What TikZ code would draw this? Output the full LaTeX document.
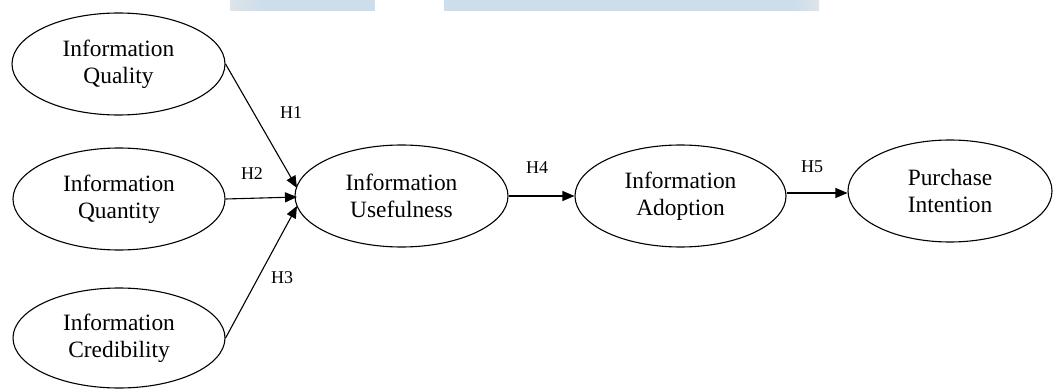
\documentclass[tikz,border=0pt]{standalone}
\usepackage{fontspec}
\setmainfont{Liberation Serif}
\usetikzlibrary{shapes.geometric,arrows.meta,calc}
\definecolor{barblue}{RGB}{204,222,236}
\definecolor{barpale}{RGB}{222,228,234}
\begin{document}
\begin{tikzpicture}[x=1pt,y=-1pt,
  construct/.style={draw, ellipse, line width=1.1pt, inner sep=0pt,
    align=center, font=\fontsize{23.4}{27}\selectfont},
  arr/.style={line width=1.1pt, -{Triangle[length=12pt,width=10pt]}},
  hyp/.style={inner sep=0pt, font=\fontsize{18}{20}\selectfont}]
\useasboundingbox (0,0) rectangle (1054,390);
% light blue bars at the top
\fill[barblue] (262,0) rectangle (375,11);
\shade[left color=barpale, right color=barblue] (230,0) rectangle (262,11);
\fill[barblue] (444,0) rectangle (795,11);
\shade[left color=barblue, right color=barpale] (795,0) rectangle (819,11);
% constructs
\node[construct, minimum width=213pt, minimum height=102pt] (q1) at (118.5,64) {Information\\Quality};
\node[construct, minimum width=212pt, minimum height=102pt] (q2) at (119,199) {Information\\Quantity};
\node[construct, minimum width=212pt, minimum height=100pt] (q3) at (119,338) {Information\\Credibility};
\node[construct, minimum width=213pt, minimum height=102pt] (u) at (401.5,196) {Information\\Usefulness};
\node[construct, minimum width=211pt, minimum height=102pt] (a) at (680.5,196) {Information\\Adoption};
\node[construct, minimum width=204pt, minimum height=102pt] (p) at (950,191) {Purchase\\Intention};
% arrow tips at Usefulness
\coordinate (t1) at (297,188);
\coordinate (t2) at (297,197);
\coordinate (t3) at (297,206);
\draw[arr] (q1.east) -- (t1);
\draw[arr] (q2.east) -- (t2);
\draw[arr] (q3.east) -- (t3);
\draw[arr] (u.east) -- (a.west);
\draw[arr] ($(a.east)+(0,-3)$) -- ($(p.west)+(0,2)$);
% hypothesis labels
\node[hyp] (h1) at (291,113) {H1};
\node[hyp] (h2) at (252,174) {H2};
\node[hyp] (h3) at (282,278) {H3};
\node[hyp] (h4) at (537,168) {H4};
\node[hyp] (h5) at (812,167) {H5};
\end{tikzpicture}
\end{document}
